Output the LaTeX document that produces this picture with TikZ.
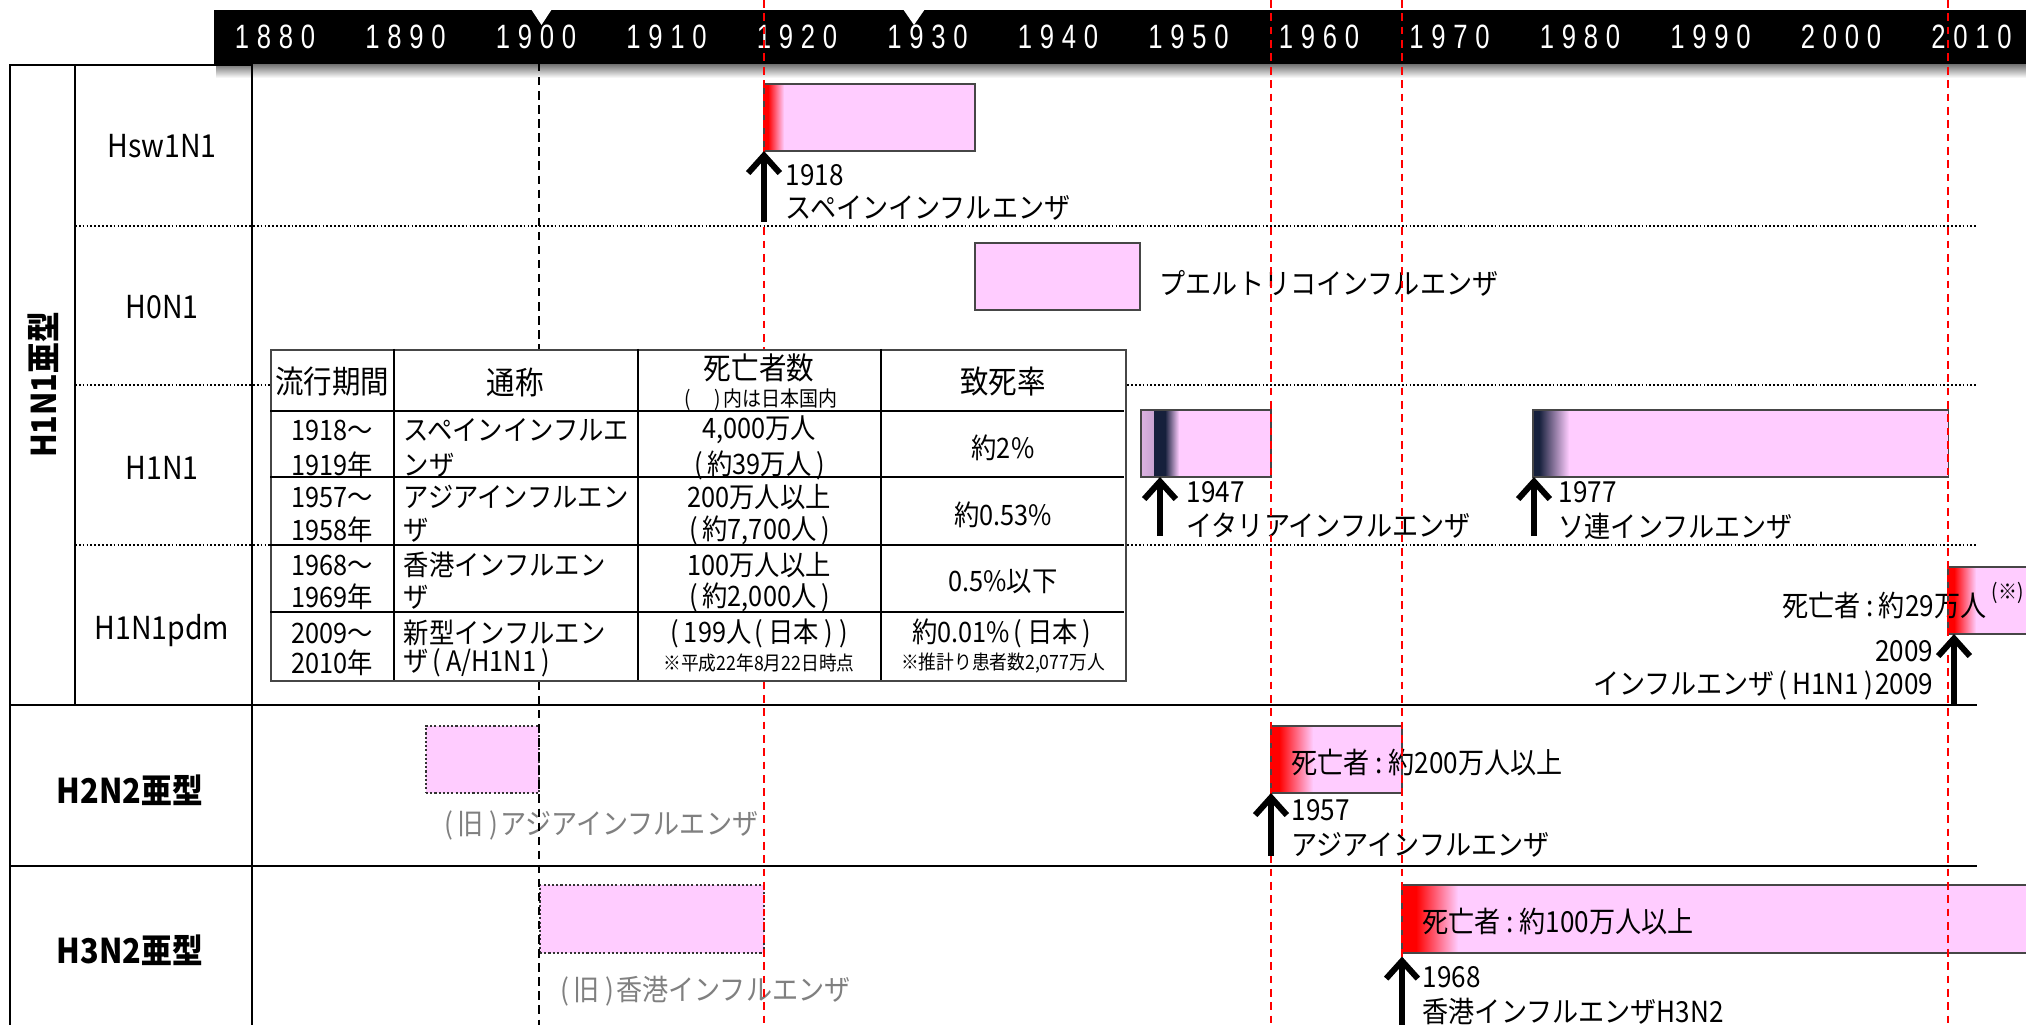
\documentclass[tikz,border=0pt]{standalone}
\usepackage{fontspec}
\setmainfont{Noto Sans CJK JP}[FakeStretch=0.9]
\newfontfamily\yrfont{Liberation Sans}[FakeStretch=0.76]
\usetikzlibrary{arrows.meta}
\definecolor{pk}{RGB}{255,204,255}
\definecolor{navy}{RGB}{22,32,60}
\definecolor{edgegray}{RGB}{70,70,70}
\definecolor{oldgray}{RGB}{128,128,128}
\def\spyr#1#2#3#4{#1\kern2.2pt#2\kern2.2pt#3\kern2.2pt#4}
\newcommand\clp{\kern1.6pt:\kern1.6pt}
\newcommand\LP{\kern1pt(\kern1.4pt}
\newcommand\RP{\kern1.4pt)\kern0.7pt}
\newcommand\fsLab{\fontsize{8.25}{10}\selectfont}
\newcommand\fsTbl{\fontsize{8}{10}\selectfont}
\newcommand\fsHdr{\fontsize{9}{10}\selectfont}
\newcommand\fsHdrB{\fontsize{8.7}{10}\selectfont}
\newcommand\fsSub{\fontsize{6}{7}\selectfont}
\newcommand\fsSm{\fontsize{5.6}{7}\selectfont}
\newcommand\fsRow{\fontsize{9}{10}\selectfont}
\newcommand\fsGrp{\fontsize{9.7}{11}\selectfont}
\begin{document}
\begin{tikzpicture}[x=0.01cm,y=-0.01cm,
  lab/.style={inner sep=0pt, anchor=west, font=\fsLab},
  labr/.style={lab, anchor=east},
  oldlab/.style={lab, text=oldgray},
  tb/.style={inner sep=0pt, font=\fsTbl},
  tbw/.style={tb, anchor=west},
  rowlab/.style={inner sep=0pt, font=\fsRow},
  grp/.style={inner sep=0pt, font=\fsGrp\bfseries},
  pbox/.style={draw=edgegray, line width=0.4pt, fill=pk, inner sep=0pt, outer sep=0pt, anchor=north west},
  oldbox/.style={pbox, draw=black!80, dash pattern=on 0.6pt off 0.6pt},
  bigarr/.style={line width=1.7pt, -{Straight Barb[length=5pt,width=9pt]}},
  gridline/.style={line width=0.5pt, black},
  dotgrid/.style={line width=0.8pt, black, dash pattern=on 0.5pt off 0.6pt},
  tline/.style={line width=0.5pt, black},
  reddash/.style={red, line width=0.5pt, dash pattern=on 2.2pt off 1.6pt},
  blkdash/.style={black, line width=0.7pt, dash pattern=on 2.4pt off 1.6pt},
  yrlab/.style={inner sep=0pt, text=white, font=\yrfont\fontsize{9.6}{10}\selectfont}]
\useasboundingbox (0,0) rectangle (2026,1025);
\fill[white] (0,0) rectangle (2026,1025);

% year bar
\shade[top color=black!60, bottom color=white] (216,63) rectangle (2026,78);
\node[fill=black, inner sep=0pt, minimum width=18.2cm, minimum height=0.54cm, anchor=north west] (bar) at (213,9) {};
\fill[white] (531,9) -- (552,9) -- (541.5,25) -- cycle;
\fill[white] (903,9) -- (925,9) -- (914,25) -- cycle;
\foreach \yv [count=\i from 0] in {1880,1890,...,2010}
  \node[yrlab] (yr\yv) at ({275+130.5*\i},37) {\expandafter\spyr\yv};

% grid
\draw[gridline] (10,1030) -- (10,65) -- (252,65) -- (252,1030);
\draw[gridline] (75,65) -- (75,705);
\draw[gridline] (10,705) -- (1977,705);
\draw[gridline] (10,866) -- (1977,866);
\foreach \yy in {226,385,545} \draw[dotgrid] (75,\yy) -- (1977,\yy);

% row labels
\node[rowlab] (rHsw) at (162,146) {Hsw1N1};
\node[rowlab] (rH0) at (162,307) {H0N1};
\node[rowlab] (rH1) at (162,468) {H1N1};
\node[rowlab] (rpdm) at (162,631) {H1N1pdm};
\node[grp, rotate=90] (g1) at (43,385) {H1N1亜型};
\node[grp] (g2) at (130,790) {H2N2亜型};
\node[grp] (g3) at (130,950) {H3N2亜型};

% boxes
\node[pbox, minimum width=2.11cm, minimum height=0.67cm,
  path picture={\fill[red] (path picture bounding box.north west) rectangle ([xshift=0.04cm]path picture bounding box.south west);
  \shade[left color=red,right color=pk] ([xshift=0.04cm]path picture bounding box.north west) rectangle ([xshift=0.2cm]path picture bounding box.south west);}]
  (spain) at (764,84) {};
\node[pbox, minimum width=1.65cm, minimum height=0.67cm] (puerto) at (975,243) {};
\node[pbox, minimum width=1.30cm, minimum height=0.67cm,
  path picture={\shade[left color=pk!85!navy,right color=navy] (path picture bounding box.north west) rectangle ([xshift=0.13cm]path picture bounding box.south west);
  \fill[navy] ([xshift=0.13cm]path picture bounding box.north west) rectangle ([xshift=0.24cm]path picture bounding box.south west);
  \shade[left color=navy,right color=pk] ([xshift=0.24cm]path picture bounding box.north west) rectangle ([xshift=0.38cm]path picture bounding box.south west);}]
  (italy) at (1141,410) {};
\node[pbox, minimum width=4.15cm, minimum height=0.67cm,
  path picture={\fill[navy] (path picture bounding box.north west) rectangle ([xshift=0.06cm]path picture bounding box.south west);
  \shade[left color=navy,right color=pk] ([xshift=0.06cm]path picture bounding box.north west) rectangle ([xshift=0.36cm]path picture bounding box.south west);}]
  (ussr) at (1533,410) {};
\node[pbox, minimum width=0.95cm, minimum height=0.67cm,
  path picture={\fill[red] (path picture bounding box.north west) rectangle ([xshift=0.06cm]path picture bounding box.south west);
  \shade[left color=red,right color=pk] ([xshift=0.06cm]path picture bounding box.north west) rectangle ([xshift=0.28cm]path picture bounding box.south west);}]
  (pdm) at (1948,567) {};
\node[oldbox, minimum width=1.13cm, minimum height=0.67cm] (oldasia) at (426,726) {};
\node[pbox, minimum width=1.31cm, minimum height=0.67cm,
  path picture={\fill[red] (path picture bounding box.north west) rectangle ([xshift=0.08cm]path picture bounding box.south west);
  \shade[left color=red,right color=pk] ([xshift=0.08cm]path picture bounding box.north west) rectangle ([xshift=0.42cm]path picture bounding box.south west);}]
  (asia) at (1271,726) {};
\node[oldbox, minimum width=2.24cm, minimum height=0.68cm] (oldhk) at (540,885) {};
\node[pbox, minimum width=6.40cm, minimum height=0.68cm,
  path picture={\fill[red] (path picture bounding box.north west) rectangle ([xshift=0.14cm]path picture bounding box.south west);
  \shade[left color=red,right color=pk] ([xshift=0.14cm]path picture bounding box.north west) rectangle ([xshift=0.56cm]path picture bounding box.south west);}]
  (hk) at (1402,885) {};

% labels
\node[lab] (l1918) at (785,175) {1918};
\node[lab] (n1918) at (785,208) {スペインインフルエンザ};
\node[lab] (npr) at (1159,283) {プエルトリコインフルエンザ};
\node[lab] (l1947) at (1186,492) {1947};
\node[lab] (n1947) at (1186,526) {イタリアインフルエンザ};
\node[lab] (l1977) at (1558,492) {1977};
\node[lab] (n1977) at (1558,526) {ソ連インフルエンザ};
\node[labr] (d2009) at (1987,605) {死亡者\clp 約29万人};
\node[lab, font=\fsSub] (s2009) at (1991,593) {(※)};
\node[labr] (l2009) at (1934,651) {2009};
\node[labr] (n2009) at (1934,685) {インフルエンザ\LP H1N1\RP 2009};
\node[oldlab] (noa) at (440,825) {\LP 旧\RP アジアインフルエンザ};
\node[lab] (d1957) at (1291,763) {死亡者\clp 約200万人以上};
\node[lab] (l1957) at (1291,810) {1957};
\node[lab] (n1957) at (1291,845) {アジアインフルエンザ};
\node[oldlab] (nohk) at (556,991) {\LP 旧\RP 香港インフルエンザ};
\node[lab] (d1968) at (1422,922) {死亡者\clp 約100万人以上};
\node[lab] (l1968) at (1422,977) {1968};
\node[lab] (n1968) at (1422,1011) {香港インフルエンザH3N2};

% dashed year lines
\draw[blkdash] (539,63) -- (539,1025);
\foreach \xx in {764,1271,1402,1948} \draw[reddash] (\xx,0) -- (\xx,1025);

% arrows
\coordinate (a1918) at (764,222);
\coordinate (a1947) at (1160,536);
\coordinate (a1977) at (1534,536);
\coordinate (a2009) at (1954,704);
\coordinate (a1957) at (1271,856);
\coordinate (a1968) at (1402,1035);
\draw[bigarr] (a1918) -- (a1918 |- spain.south);
\draw[bigarr] (a1947) -- (a1947 |- italy.south);
\draw[bigarr] (a1977) -- (a1977 |- ussr.south);
\draw[bigarr] (a2009) -- (a2009 |- pdm.south);
\draw[bigarr] (a1957) -- (a1957 |- asia.south);
\draw[bigarr] (a1968) -- ([yshift=-1pt]a1968 |- hk.south);

% summary table
\node[draw=edgegray, fill=white, line width=0.6pt, minimum width=8.54cm, minimum height=3.31cm, anchor=north west, inner sep=0pt] (tbl) at (270,349) {};
\foreach \xx in {394,638,881} \draw[tline] (\xx,349) -- (\xx,680);
\foreach \yy in {411,477,545,612} \draw[tline] (270,\yy) -- (1124,\yy);

\node[tb, font=\fsHdr] (h1) at (332,382) {流行期間};
\node[tb, font=\fsHdr] (h2) at (515,382) {通称};
\node[tb, font=\fsHdrB] (h3) at (759,368) {死亡者数};
\node[tb, font=\fsSub] (h3b) at (759,400) {\LP\hspace{4pt}\RP 内は日本国内};
\node[tb, font=\fsHdr] (h4) at (1003,382) {致死率};

\node[tb] (c11a) at (332,430) {1918～};
\node[tb] (c11b) at (332,465) {1919年};
\node[tbw] (c12a) at (403,430) {スペインインフルエ};
\node[tbw] (c12b) at (403,465) {ンザ};
\node[tb] (c13a) at (759,430) {4,000万人};
\node[tb] (c13b) at (759,465) {\LP 約39万人\RP};
\node[tb] (c14) at (1003,448) {約2\%};

\node[tb] (c21a) at (332,497) {1957～};
\node[tb] (c21b) at (332,530) {1958年};
\node[tbw] (c22a) at (403,497) {アジアインフルエン};
\node[tbw] (c22b) at (403,530) {ザ};
\node[tb] (c23a) at (759,497) {200万人以上};
\node[tb] (c23b) at (759,530) {\LP 約7,700人\RP};
\node[tb] (c24) at (1003,515) {約0.53\%};

\node[tb] (c31a) at (332,565) {1968～};
\node[tb] (c31b) at (332,597) {1969年};
\node[tbw] (c32a) at (403,565) {香港インフルエン};
\node[tbw] (c32b) at (403,597) {ザ};
\node[tb] (c33a) at (759,565) {100万人以上};
\node[tb] (c33b) at (759,597) {\LP 約2,000人\RP};
\node[tb] (c34) at (1003,582) {0.5\%以下};

\node[tb] (c41a) at (332,633) {2009～};
\node[tb] (c41b) at (332,663) {2010年};
\node[tbw] (c42a) at (403,633) {新型インフルエン};
\node[tbw] (c42b) at (403,663) {ザ\LP A/H1N1\RP};
\node[tb] (c43a) at (759,633) {\LP 199人\LP 日本\RP\RP};
\node[tb, font=\fsSm] (c43b) at (759,663) {※平成22年8月22日時点};
\node[tb] (c44a) at (1003,633) {約0.01\%\LP 日本\RP};
\node[tb, font=\fsSm] (c44b) at (1003,663) {※推計り患者数2,077万人};
\end{tikzpicture}
\end{document}
